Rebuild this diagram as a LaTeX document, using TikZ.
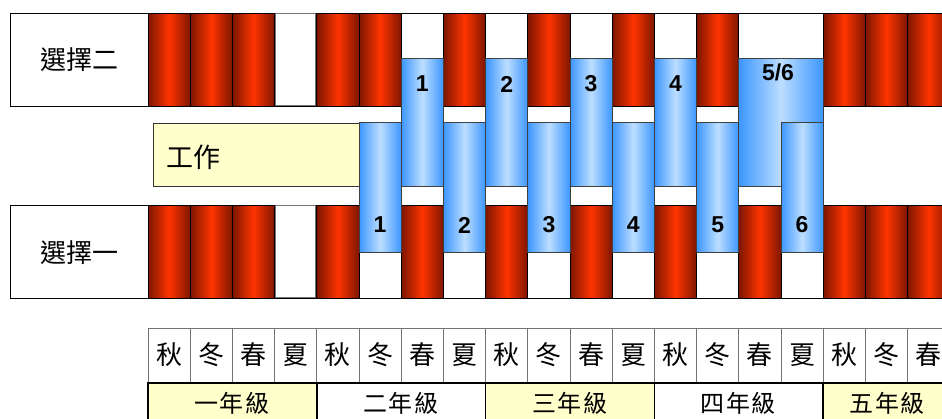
\documentclass[tikz,border=0pt]{standalone}
\usepackage{fontspec}
\newfontfamily\cjk{Noto Sans CJK TC}
\newfontfamily\numfont{Liberation Sans}
\definecolor{rdark}{RGB}{125,22,0}
\definecolor{rmid}{RGB}{255,52,0}
\definecolor{bedge}{RGB}{60,150,255}
\definecolor{bmid}{RGB}{188,222,255}
\definecolor{ylw}{RGB}{255,255,204}
\begin{document}
\begin{tikzpicture}[x=1pt,y=-1pt,
  rowbox/.style={draw=black,fill=white,line width=0.8pt},
  redcol/.style={draw=black,line width=0.7pt,left color=rdark,right color=rdark,middle color=rmid},
  whitecell/.style={draw=black!55,fill=white,line width=1pt},
  bluebar/.style={draw=black!75,line width=0.7pt,left color=bedge,right color=bedge,middle color=bmid},
  numlbl/.style={font=\numfont\bfseries\fontsize{23}{23}\selectfont},
  cjklbl/.style={font=\cjk\fontsize{26}{26}\selectfont},
  season/.style={draw=black!55,fill=white,line width=0.7pt},
  grade/.style={draw=black,line width=1.6pt},
]
\useasboundingbox (0,0) rectangle (942,418);
\clip (0,0) rectangle (942,418);
\def\cw{42.2}
% upper row (選擇二)
\draw[rowbox] (10,13) rectangle (960,106);
\foreach \k in {0,1,2,4,5,7,9,11,13,16,17,18}
  \draw[redcol] ({148+\cw*\k},13) rectangle ({148+\cw*(\k+1)},106);
\draw[whitecell] ({148+\cw*3+1},13.5) rectangle ({148+\cw*4-1},105.5);
\node[cjklbl] (opt2) at (79,60) {選擇二};
% lower row (選擇一)
\draw[rowbox] (10,205) rectangle (960,298);
\foreach \k in {0,1,2,4,6,8,10,12,14,16,17,18}
  \draw[redcol] ({148+\cw*\k},205) rectangle ({148+\cw*(\k+1)},298);
\draw[whitecell] ({148+\cw*3+1},205.5) rectangle ({148+\cw*4-1},297.5);
\node[cjklbl] (opt1) at (79,253) {選擇一};
% work box
\draw[draw=black!80,fill=ylw,line width=0.8pt] (153,123) rectangle (359,186);
\node[cjklbl,anchor=west,font=\cjk\fontsize{27}{27}\selectfont] (work) at (163,157) {工作};
% upper blue bars
\foreach \k/\t in {6/1,8/2,10/3,12/4}{
  \draw[bluebar] ({148+\cw*\k},58) rectangle ({148+\cw*(\k+1)},186);
  \node[numlbl] (u\t) at ({148+\cw*(\k+0.5)},84) {\t};
}
\draw[bluebar] ({148+\cw*14},58) rectangle ({148+\cw*16},186);
\node[numlbl] (u56) at ({148+\cw*15-3},72) {5/6};
% lower blue bars
\foreach \k/\t in {5/1,7/2,9/3,11/4,13/5,15/6}{
  \draw[bluebar] ({148+\cw*\k},122) rectangle ({148+\cw*(\k+1)},252);
  \node[numlbl] (l\t) at ({148+\cw*(\k+0.5)},225) {\t};
}
% season table
\foreach \k/\s in {0/秋,1/冬,2/春,3/夏,4/秋,5/冬,6/春,7/夏,8/秋,9/冬,10/春,11/夏,12/秋,13/冬,14/春,15/夏,16/秋,17/冬,18/春}{
  \draw[season] ({148+\cw*\k},328) rectangle ({148+\cw*(\k+1)},382);
  \node[cjklbl] (s\k) at ({148+\cw*(\k+0.5)},355) {\s};
}
% grade row
\foreach \g/\t/\f/\cx in {0/一/ylw/232,1/二/white/401,2/三/ylw/570,3/四/white/738,4/五/ylw/887}{
  \draw[grade,fill=\f] ({148+\cw*4*\g},383) rectangle ({148+\cw*4*(\g+1)},440);
  \node[font=\cjk\fontsize{24}{24}\selectfont] (g\g) at (\cx,403) {\t\hspace{2pt}年\hspace{2pt}級};
}
\end{tikzpicture}
\end{document}
